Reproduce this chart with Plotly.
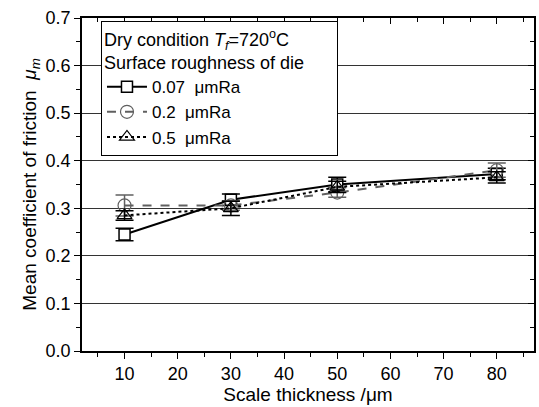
import plotly.graph_objects as go

# Data
scale_thickness = [10, 30, 50, 80]
mu_007 = [0.245, 0.318, 0.350, 0.372]
err_007 = [0.013, 0.012, 0.015, 0.012]
mu_02 = [0.306, 0.306, 0.333, 0.380]
err_02 = [0.022, 0.010, 0.010, 0.015]
mu_05 = [0.285, 0.300, 0.345, 0.365]
err_05 = [0.010, 0.015, 0.012, 0.012]
series_names = ["0.07  \u03bcmRa", "0.2  \u03bcmRa", "0.5  \u03bcmRa"]

FONT = "Liberation Sans, Arial, sans-serif"

fig = go.Figure()

fig.add_trace(go.Scatter(
    x=scale_thickness, y=mu_007, name=series_names[0], mode="lines+markers",
    line=dict(color="black", width=2, dash="solid"),
    marker=dict(symbol="square", size=11, color="white", line=dict(color="black", width=1.5)),
    error_y=dict(type="data", array=err_007, visible=True, color="black", thickness=1.5, width=9),
))
fig.add_trace(go.Scatter(
    x=scale_thickness, y=mu_02, name=series_names[1], mode="lines+markers",
    line=dict(color="#606060", width=2, dash="dash"),
    marker=dict(symbol="circle", size=13, color="rgba(255,255,255,0)", line=dict(color="#606060", width=1.2)),
    error_y=dict(type="data", array=err_02, visible=True, color="#606060", thickness=1.5, width=9),
))
fig.add_trace(go.Scatter(
    x=scale_thickness, y=mu_05, name=series_names[2], mode="lines+markers",
    line=dict(color="black", width=2, dash="dot"),
    marker=dict(symbol="triangle-up", size=13, color="rgba(255,255,255,0)", line=dict(color="black", width=1.2)),
    error_y=dict(type="data", array=err_05, visible=True, color="black", thickness=1.5, width=9),
))
# helper trace for mirrored inside ticks
fig.add_trace(go.Scatter(x=[None], y=[None], xaxis="x2", yaxis="y2", showlegend=False, hoverinfo="skip"))

xr = [2, 87]
yr = [0, 0.7]

fig.update_layout(
    width=539, height=407, autosize=False,
    margin=dict(l=82, r=3, t=18, b=56),
    paper_bgcolor="white", plot_bgcolor="white",
    font=dict(family=FONT, size=18, color="black"),
    showlegend=True,
    legend=dict(
        x=0.042, y=0.99, xanchor="left", yanchor="top",
        bgcolor="white", bordercolor="black", borderwidth=1,
        font=dict(family=FONT, size=17, color="black"),
        title=dict(text="Dry condition <i>T</i><sub><i>f</i></sub>=720<sup>o</sup>C<br>Surface roughness of die" + "\u00a0" * 6,
                   font=dict(family=FONT, size=18, color="black"), side="top"),
        tracegroupgap=0, itemwidth=40,
    ),
    xaxis=dict(
        range=xr, tickmode="linear", tick0=0, dtick=10,
        ticks="outside", ticklen=6, tickwidth=1.2, tickcolor="black",
        minor=dict(ticks="outside", ticklen=4, dtick=5, tick0=0, tickcolor="black", tickwidth=1.2),
        showline=True, linecolor="black", linewidth=1.5, mirror=True,
        showgrid=False, zeroline=False,
        tickfont=dict(family=FONT, size=18),
        title=dict(text="Scale thickness /\u03bcm", font=dict(family=FONT, size=19), standoff=2),
    ),
    yaxis=dict(
        range=yr, tickmode="linear", tick0=0, dtick=0.1, tickformat=".1f",
        ticks="outside", ticklen=6, tickwidth=1.2, tickcolor="black",
        minor=dict(ticks="outside", ticklen=4, dtick=0.05, tick0=0, tickcolor="black", tickwidth=1.2, showgrid=False),
        showline=True, linecolor="black", linewidth=1.5, mirror=True,
        showgrid=True, gridcolor="#333333", gridwidth=1, zeroline=False,
        tickfont=dict(family=FONT, size=18),
        title=dict(text="Mean coefficient of friction  <i>\u03bc</i><sub><i>m</i></sub>", font=dict(family=FONT, size=19), standoff=4),
    ),
    xaxis2=dict(
        range=xr, overlaying="x", side="top", tickmode="linear", tick0=0, dtick=10,
        ticks="inside", ticklen=6, tickwidth=1.2, tickcolor="black",
        minor=dict(ticks="inside", ticklen=4, dtick=5, tick0=0, tickcolor="black", tickwidth=1.2),
        showticklabels=False, showgrid=False, zeroline=False, showline=False,
    ),
    yaxis2=dict(
        range=yr, overlaying="y", side="right", tickmode="linear", tick0=0, dtick=0.1,
        ticks="inside", ticklen=6, tickwidth=1.2, tickcolor="black",
        minor=dict(ticks="inside", ticklen=4, dtick=0.05, tick0=0, tickcolor="black", tickwidth=1.2),
        showticklabels=False, showgrid=False, zeroline=False, showline=False,
    ),
)

fig.write_html("out.html", config={"displayModeBar": False},
               post_script="document.body.style.margin='0px';")
